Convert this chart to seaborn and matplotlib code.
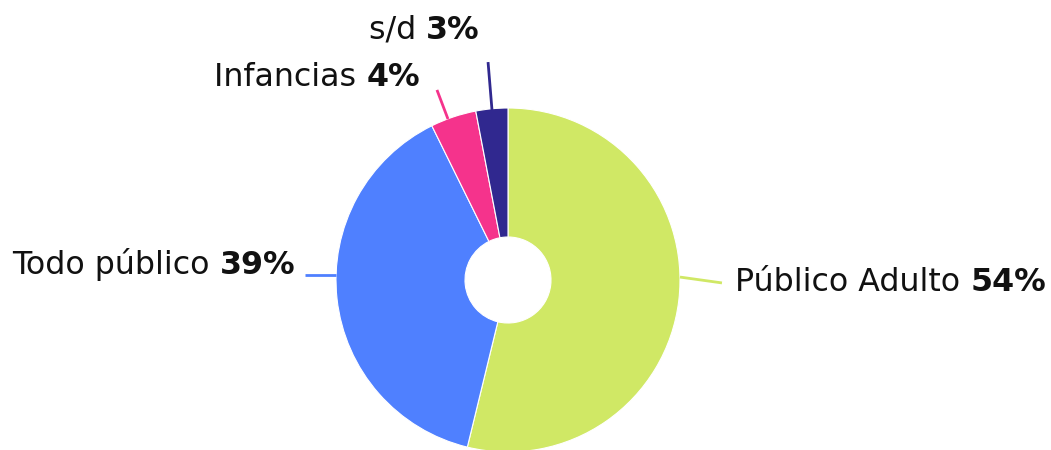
import matplotlib
matplotlib.use("Agg")
import matplotlib.pyplot as plt
import seaborn as sns
from matplotlib.offsetbox import AnnotationBbox, HPacker, TextArea

# data (shares in %, clockwise from 12 o'clock)
categories = ["Público Adulto", "Todo público", "Infancias", "s/d"]
shares = [53.8, 38.9, 4.3, 3.0]
colors = ["#D0E865", "#4F80FF", "#F5338C", "#30288F"]

# layout: label anchors / leader lines in pie-radius units
label_xy = [(1.32, -0.017), (-1.238, 0.093), (-0.512, 1.18), (-0.163, 1.453)]
label_side = ["left", "right", "right", "right"]
leaders = [((1.0, 0.017), (1.244, -0.017)),
           ((-1.18, 0.029), (-1.0, 0.029)),
           ((-0.413, 1.105), (-0.349, 0.936)),
           ((-0.116, 1.267), (-0.093, 0.988))]

sns.set_theme(style="white")
plt.rcParams["font.family"] = ["DejaVu Sans"]

W, H, DPI = 1051, 450, 100
R_PX = 172
CX, CY = 508, 280  # pie centre in pixels (from top-left)

fig = plt.figure(figsize=(W / DPI, H / DPI), dpi=DPI)
ax = fig.add_axes([0, 0, 1, 1])

ax.pie(shares, colors=colors, startangle=90, counterclock=False, radius=1,
       wedgeprops=dict(width=0.75, edgecolor="white", linewidth=0.8))
ax.set_xlim(-CX / R_PX, (W - CX) / R_PX)
ax.set_ylim(-(H - CY) / R_PX, CY / R_PX)
ax.set_axis_off()

fs = 22.8
for name, val, col, (lx, ly), side, (p0, p1) in zip(
        categories, shares, colors, label_xy, label_side, leaders):
    ax.plot([p0[0], p1[0]], [p0[1], p1[1]], color=col, lw=2, solid_capstyle="butt")
    box = HPacker(children=[
        TextArea(name + " ", textprops=dict(fontsize=fs, color="#111111")),
        TextArea(f"{val:.0f}%", textprops=dict(fontsize=fs, color="#111111",
                                               fontweight="bold")),
    ], align="baseline", pad=0, sep=0)
    ab = AnnotationBbox(box, (lx, ly), frameon=False, pad=0,
                        box_alignment=(0 if side == "left" else 1, 0.5))
    ax.add_artist(ab)

fig.savefig("out.png", dpi=DPI, facecolor="white")
